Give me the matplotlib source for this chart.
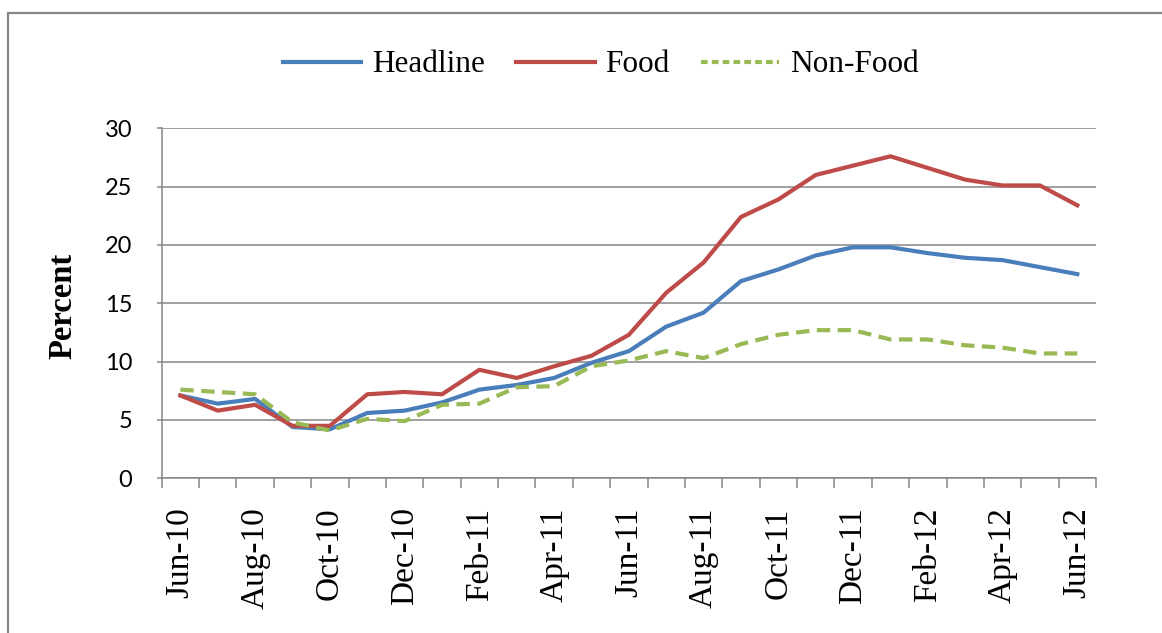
import numpy as np
import matplotlib.pyplot as plt
from matplotlib.patches import Rectangle

# monthly data, Jun-10 .. Jun-12
months = ['Jun-10', 'Jul-10', 'Aug-10', 'Sep-10', 'Oct-10', 'Nov-10', 'Dec-10',
          'Jan-11', 'Feb-11', 'Mar-11', 'Apr-11', 'May-11', 'Jun-11', 'Jul-11',
          'Aug-11', 'Sep-11', 'Oct-11', 'Nov-11', 'Dec-11', 'Jan-12', 'Feb-12',
          'Mar-12', 'Apr-12', 'May-12', 'Jun-12']
headline = [7.1, 6.4, 6.8, 4.4, 4.2, 5.6, 5.8, 6.5, 7.6, 8.0, 8.6, 9.9, 10.9,
            13.0, 14.2, 16.9, 17.9, 19.1, 19.8, 19.8, 19.3, 18.9, 18.7, 18.1, 17.5]
food = [7.1, 5.8, 6.3, 4.5, 4.5, 7.2, 7.4, 7.2, 9.3, 8.6, 9.6, 10.5, 12.3,
        15.9, 18.5, 22.4, 23.9, 26.0, 26.8, 27.6, 26.6, 25.6, 25.1, 25.1, 23.4]
nonfood = [7.6, 7.4, 7.2, 4.8, 4.1, 5.1, 4.9, 6.3, 6.4, 7.8, 7.9, 9.6, 10.1,
           10.9, 10.3, 11.5, 12.3, 12.7, 12.7, 11.9, 11.9, 11.4, 11.2, 10.7, 10.7]

x = np.arange(len(months))
grey = '#868686'

fig = plt.figure(figsize=(11.62, 6.33), dpi=100)
ax = fig.add_axes([161.7 / 1162, 1 - 478.3 / 633, (1096 - 161.7) / 1162, 350 / 633])

l1, = ax.plot(x, headline, color='#4A7EBB', lw=3.0, label='Headline')
l2, = ax.plot(x, food, color='#BE4B48', lw=3.0, label='Food')
l3, = ax.plot(x, nonfood, color='#98B954', lw=3.0, dashes=(3.2, 1.8), label='Non-Food')

ax.set_xlim(-0.5, len(months) - 0.5)
ax.set_ylim(0, 30)
ax.set_yticks(range(0, 31, 5))
ax.yaxis.grid(True, color=grey, lw=1.1)
ax.set_axisbelow(True)
for s in ['top', 'right']:
    ax.spines[s].set_visible(False)
for s in ['left', 'bottom']:
    ax.spines[s].set_color(grey)
    ax.spines[s].set_linewidth(1.1)

ax.set_xticks(x[::2])
ax.set_xticklabels(months[::2], rotation=90, family='Liberation Serif', fontsize=24)
ax.set_xticks(np.arange(-0.5, len(months), 1), minor=True)
ax.tick_params(axis='x', which='major', length=0, pad=21)
ax.tick_params(axis='x', which='minor', length=7, width=1.1, color=grey, direction='out')
ax.tick_params(axis='y', length=3.6, width=1.1, color=grey, pad=17.5)
for t in ax.get_yticklabels():
    t.set_family('Lato')
    t.set_fontsize(17)

ax.set_ylabel('Percent', family='Liberation Serif', fontweight='bold', fontsize=23.5)
ax.yaxis.set_label_coords(78 / 1162, 1 - 306 / 633, transform=fig.transFigure)

leg = fig.legend(handles=[l1, l2, l3], loc='center', bbox_to_anchor=(601 / 1162, 1 - 65 / 633),
                 ncol=3, frameon=False, prop={'family': 'Liberation Serif', 'size': 22.5},
                 handlelength=2.5, handletextpad=0.35, columnspacing=1.0)
leg.get_lines()[2].set_dashes((1.6, 1.0))

# outer chart border
fig.patches.append(Rectangle((8 / 1162, -0.1), 1.2, 1.1 - 13 / 633, transform=fig.transFigure,
                             fill=False, edgecolor=grey, lw=1.6))

fig.savefig('out.png', dpi=100)
